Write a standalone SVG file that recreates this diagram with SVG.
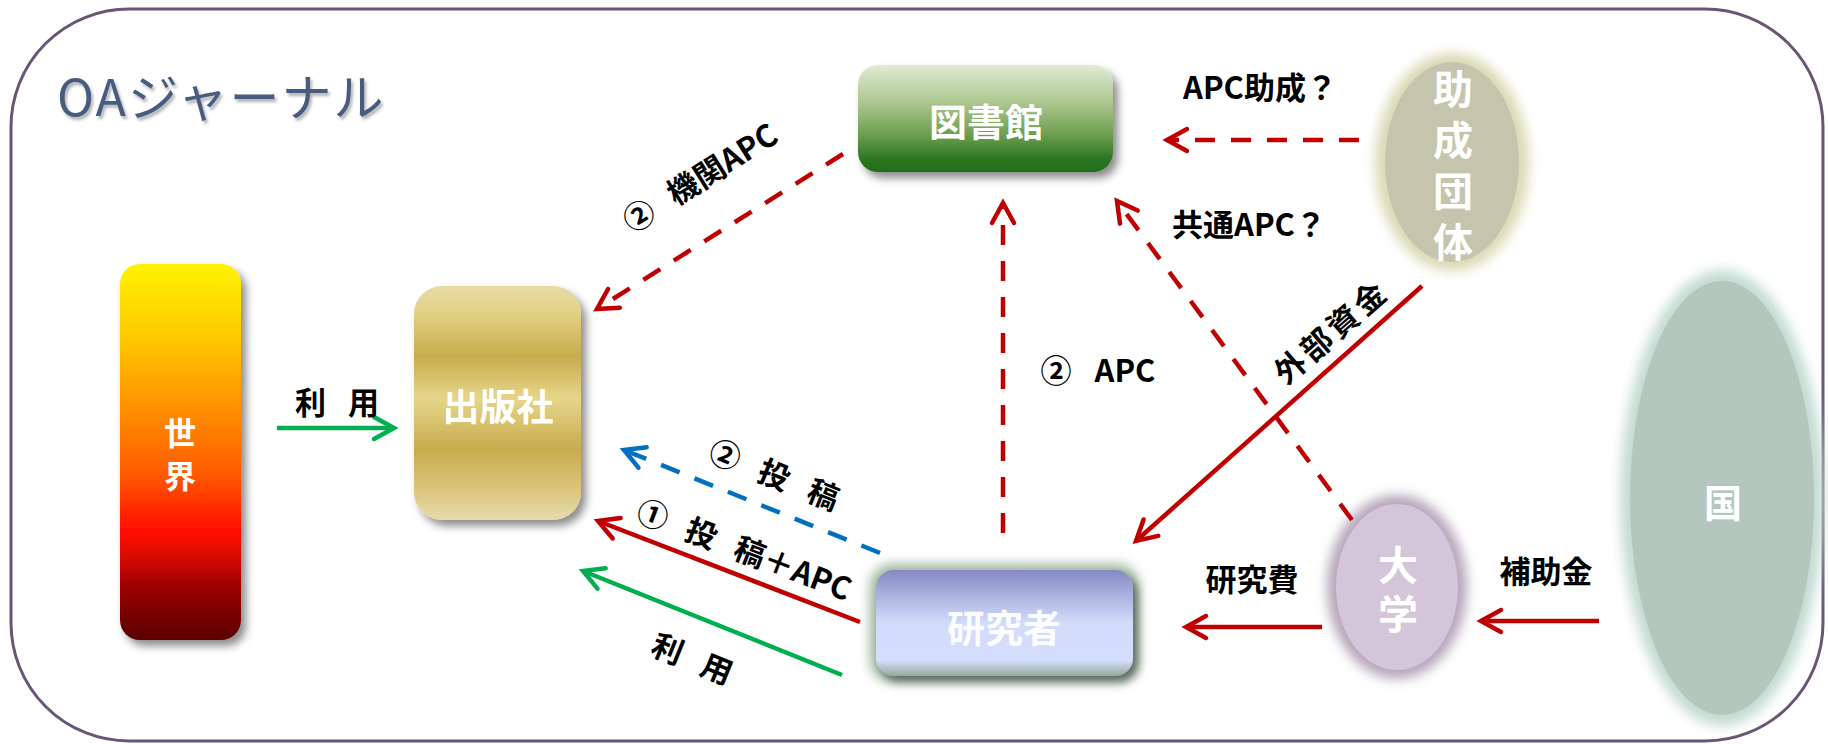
<svg xmlns="http://www.w3.org/2000/svg" width="1828" height="744" viewBox="0 0 1828 744">
<defs>
<style>
.lbl{font-family:"Noto Sans CJK JP","Noto Sans",sans-serif;font-weight:700;font-size:31px;fill:#000;text-anchor:middle;dominant-baseline:central}
.ntxt{font-family:"Noto Sans CJK JP","Noto Sans",sans-serif;font-weight:700;fill:#fff;text-anchor:middle;dominant-baseline:central}
.vtxt{font-family:"Noto Sans CJK JP","Noto Sans",sans-serif;font-weight:700;fill:#fff;text-anchor:middle;writing-mode:vertical-rl}
.red{stroke:#C00000;stroke-width:4.5;fill:none}
.dash{stroke-dasharray:20 16}
.green{stroke:#00B050;stroke-width:4.5;fill:none}
.blue{stroke:#0070C0;stroke-width:4.5;fill:none}
</style>
<linearGradient id="gWorld" x1="0" y1="0" x2="0" y2="1">
<stop offset="0" stop-color="#FFF200"/>
<stop offset="0.2" stop-color="#FFC800"/>
<stop offset="0.35" stop-color="#FF9A00"/>
<stop offset="0.55" stop-color="#FF5E00"/>
<stop offset="0.72" stop-color="#FF0800"/>
<stop offset="0.85" stop-color="#A00606"/>
<stop offset="1" stop-color="#5A0000"/>
</linearGradient>
<linearGradient id="gPub" x1="0" y1="0" x2="0" y2="1">
<stop offset="0" stop-color="#E6DBA6"/>
<stop offset="0.12" stop-color="#E2D083"/>
<stop offset="0.3" stop-color="#C8AC4E"/>
<stop offset="0.48" stop-color="#E6D589"/>
<stop offset="0.7" stop-color="#C8AC4E"/>
<stop offset="0.88" stop-color="#DCC780"/>
<stop offset="1" stop-color="#E6DCAA"/>
</linearGradient>
<linearGradient id="gLib" x1="0" y1="0" x2="0" y2="1">
<stop offset="0" stop-color="#E0EBD4"/>
<stop offset="0.35" stop-color="#ADC78F"/>
<stop offset="0.65" stop-color="#6E9E50"/>
<stop offset="0.88" stop-color="#2A7620"/>
<stop offset="1" stop-color="#226C1A"/>
</linearGradient>
<linearGradient id="gRes" x1="0" y1="0" x2="0" y2="1">
<stop offset="0" stop-color="#8689C4"/>
<stop offset="0.5" stop-color="#D2DCFA"/>
<stop offset="0.85" stop-color="#D4DEFC"/>
<stop offset="1" stop-color="#95AB9C"/>
</linearGradient>
<filter id="shadow" x="-20%" y="-20%" width="150%" height="150%">
<feDropShadow dx="5" dy="6" stdDeviation="4" flood-color="#000" flood-opacity="0.45"/>
</filter>
<filter id="tshadow" x="-10%" y="-20%" width="120%" height="150%">
<feDropShadow dx="2" dy="3" stdDeviation="1.5" flood-color="#000" flood-opacity="0.3"/>
</filter>
<filter id="blur" x="-30%" y="-30%" width="160%" height="160%">
<feGaussianBlur stdDeviation="6"/>
</filter>
<marker id="aRed" markerUnits="userSpaceOnUse" viewBox="-26 -16 30 32" refX="0" refY="0" markerWidth="30" markerHeight="32" orient="auto" overflow="visible">
<path d="M-20,-11 L0,0 L-20,11" fill="none" stroke="#C00000" stroke-width="4.5" stroke-dasharray="none" stroke-linecap="round" stroke-linejoin="miter"/>
</marker>
<marker id="aGreen" markerUnits="userSpaceOnUse" viewBox="-26 -16 30 32" refX="0" refY="0" markerWidth="30" markerHeight="32" orient="auto" overflow="visible">
<path d="M-20,-11 L0,0 L-20,11" fill="none" stroke="#00B050" stroke-width="4.5" stroke-dasharray="none" stroke-linecap="round"/>
</marker>
<marker id="aBlue" markerUnits="userSpaceOnUse" viewBox="-26 -16 30 32" refX="0" refY="0" markerWidth="30" markerHeight="32" orient="auto" overflow="visible">
<path d="M-20,-11 L0,0 L-20,11" fill="none" stroke="#0070C0" stroke-width="4.5" stroke-dasharray="none" stroke-linecap="round"/>
</marker>
</defs>

<rect x="0" y="0" width="1828" height="744" fill="#fff"/>
<rect id="frame" x="11" y="9" width="1812" height="732" rx="118" ry="118" fill="#fff" stroke="#6B5577" stroke-width="3"/>

<text id="title" x="57" y="116" font-family="'Noto Sans CJK JP','Noto Sans',sans-serif" font-size="50" letter-spacing="2" fill="#475B7F" filter="url(#tshadow)">OAジャーナル</text>

<g id="world">
<rect x="120" y="264" width="121" height="376" rx="20" fill="url(#gWorld)" filter="url(#shadow)"/>
<text class="vtxt" x="180" y="460" font-size="32" letter-spacing="11">世界</text>
</g>

<g id="publisher">
<rect x="414" y="286" width="167" height="234" rx="28" fill="url(#gPub)" filter="url(#shadow)"/>
<text class="ntxt" x="498" y="405" font-size="37">出版社</text>
</g>

<g id="library">
<rect x="858" y="65" width="255" height="107" rx="20" fill="url(#gLib)" filter="url(#shadow)"/>
<text class="ntxt" x="986" y="119" font-size="38">図書館</text>
</g>

<g id="researcher">
<rect x="870" y="564" width="269" height="118" rx="22" fill="#9EB89E" filter="url(#blur)"/>
<rect x="876" y="570" width="257" height="106" rx="18" fill="url(#gRes)" filter="url(#shadow)"/>
<text class="ntxt" x="1004" y="625" font-size="38" fill-opacity="0.95">研究者</text>
</g>

<g id="foundation">
<ellipse cx="1452" cy="162" rx="77" ry="109" fill="#DADAB6" filter="url(#blur)"/>
<ellipse cx="1452" cy="162" rx="67" ry="100" fill="#C5C5AE"/>
<text class="vtxt" x="1453" y="171" font-size="40" letter-spacing="11">助成団体</text>
</g>

<g id="university">
<ellipse cx="1397" cy="587" rx="70" ry="92" fill="#B6A6BA" filter="url(#blur)"/>
<ellipse cx="1397" cy="587" rx="61" ry="83" fill="#D4C6D8"/>
<text class="vtxt" x="1398" y="594" font-size="40" letter-spacing="9">大学</text>
</g>

<g id="country">
<ellipse cx="1722" cy="498" rx="102" ry="228" fill="#C4DCD2" filter="url(#blur)"/>
<ellipse cx="1722" cy="498" rx="92" ry="217" fill="#B4C6BD"/>
<text class="ntxt" x="1723" y="500" font-size="38" font-weight="400">国</text>
</g>

<g id="connectors">
<line class="green" x1="277" y1="428" x2="394" y2="428" marker-end="url(#aGreen)"/>
<line class="red dash" x1="843" y1="154" x2="597" y2="309" marker-end="url(#aRed)"/>
<line class="red dash" x1="1359" y1="140" x2="1167" y2="140" marker-end="url(#aRed)"/>
<line class="red dash" x1="1003" y1="533" x2="1003" y2="203" marker-end="url(#aRed)"/>
<line class="red dash" x1="1352" y1="520" x2="1117" y2="201" marker-end="url(#aRed)"/>
<line class="red" x1="1422" y1="286" x2="1136" y2="541" marker-end="url(#aRed)"/>
<line class="red" x1="1322" y1="627" x2="1186" y2="627" marker-end="url(#aRed)"/>
<line class="red" x1="1599" y1="621" x2="1481" y2="621" marker-end="url(#aRed)"/>
<line class="blue dash" x1="880" y1="553" x2="624" y2="450" marker-end="url(#aBlue)"/>
<line class="red" x1="860" y1="622" x2="598" y2="521" marker-end="url(#aRed)"/>
<line class="green" x1="842" y1="675" x2="583" y2="571" marker-end="url(#aGreen)"/>
</g>

<g id="labels">
<text class="lbl" x="337" y="400" font-size="29" word-spacing="15">利 用</text>
<text class="lbl" transform="translate(699,176) rotate(-32)" font-size="32" word-spacing="14">② 機関APC</text>
<text class="lbl" x="1260" y="85" font-size="32">APC助成？</text>
<text class="lbl" x="1249" y="222" font-size="32">共通APC？</text>
<text class="lbl" x="1098" y="368" word-spacing="16">② APC</text>
<text class="lbl" transform="translate(1330,330) rotate(-41)" letter-spacing="4">外部資金</text>
<text class="lbl" x="1252" y="577">研究費</text>
<text class="lbl" x="1546" y="569">補助金</text>
<text class="lbl" transform="translate(775,473) rotate(22)" word-spacing="15">② 投 稿</text>
<text class="lbl" transform="translate(745,548) rotate(21)" font-size="32" word-spacing="14">① 投 稿＋APC</text>
<text class="lbl" transform="translate(693,657) rotate(22)" word-spacing="15">利 用</text>
</g>
</svg>
